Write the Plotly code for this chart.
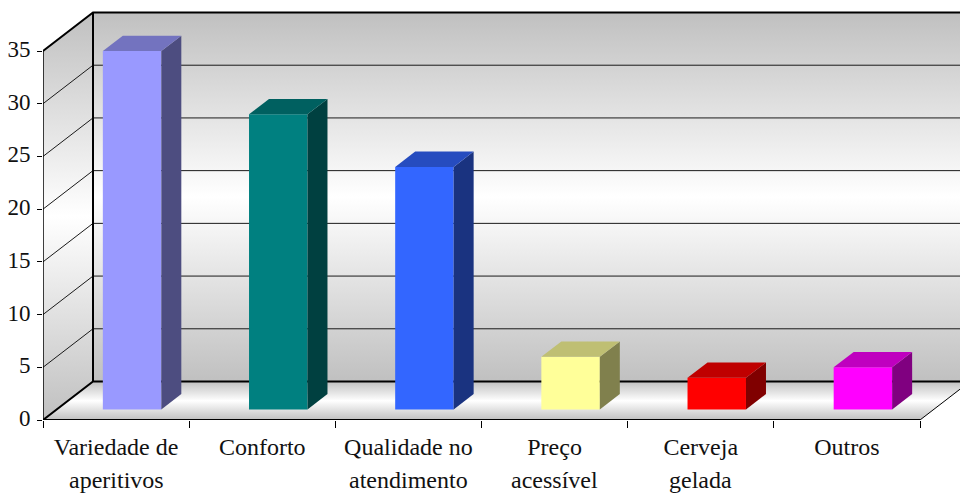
import plotly.graph_objects as go

categories_line1 = ["Variedade de", "Conforto", "Qualidade no", "Preço", "Cerveja", "Outros"]
categories_line2 = ["aperitivos", "", "atendimento", "acessível", "gelada", ""]
values = [34, 28, 23, 5, 3, 4]
front_colors = ["#9999FF", "#008080", "#3366FF", "#FFFF99", "#FF0000", "#FF00FF"]
top_colors = ["#7373BF", "#006060", "#264CBF", "#BFBF73", "#BF0000", "#BF00BF"]
side_colors = ["#4D4D80", "#004040", "#1A3380", "#80804D", "#800000", "#800080"]
y_ticks = [0, 5, 10, 15, 20, 25, 30, 35]

W, H = 960, 493
L, B = 43, 73            # plot origin in the page
SLOT = (920 - 43) / 6    # px per category
UNIT = 369 / 35          # px per value unit
DEPTH_X = 50 / SLOT      # full depth of the box, in axis units
DEPTH_Y = 38.5 / UNIT
N = len(values)
YMAX = 420 / UNIT
XMAX = (W - L) / SLOT
BAR_W = 0.4

GRADIENT = [[0, "#C0C0C0"], [0.5, "#FFFFFF"], [1, "#C0C0C0"]]


def wall(xs, ys, colorscale=GRADIENT):
    return go.Scatter(x=xs, y=ys, mode="none", fill="toself", hoverinfo="skip",
                      fillgradient=dict(type="vertical", colorscale=colorscale),
                      showlegend=False, xaxis="x", yaxis="y")


def line(xs, ys, width, color="#000000"):
    return go.Scatter(x=xs, y=ys, mode="lines", cliponaxis=False, hoverinfo="skip",
                      line=dict(color=color, width=width), showlegend=False,
                      xaxis="x", yaxis="y")


fig = go.Figure()

top = max(y_ticks)
# Walls and floor
fig.add_trace(wall([DEPTH_X, XMAX + 1, XMAX + 1, DEPTH_X, DEPTH_X],
                   [DEPTH_Y, DEPTH_Y, top + DEPTH_Y, top + DEPTH_Y, DEPTH_Y]))
fig.add_trace(wall([0, DEPTH_X, DEPTH_X, 0, 0],
                   [0, DEPTH_Y, top + DEPTH_Y, top, 0]))
fig.add_trace(wall([0, N, N + DEPTH_X, DEPTH_X, 0],
                   [0, 0, DEPTH_Y, DEPTH_Y, 0]))

# Gridlines across both walls
gx, gy = [], []
for t in y_ticks[1:-1]:
    gx += [0, DEPTH_X, XMAX + 1, None]
    gy += [t, t + DEPTH_Y, t + DEPTH_Y, None]
fig.add_trace(line(gx, gy, 1, "#1a1a1a"))

# Box edges
fig.add_trace(line([0, DEPTH_X, XMAX + 1], [top, top + DEPTH_Y, top + DEPTH_Y], 2))
fig.add_trace(line([DEPTH_X, DEPTH_X], [top + DEPTH_Y, DEPTH_Y], 2))
fig.add_trace(line([0, DEPTH_X, XMAX + 1], [0, DEPTH_Y, DEPTH_Y], 2))
fig.add_trace(line([0, 0], [0, top], 1.5))
fig.add_trace(line([0, N], [0, 0], 2))
fig.add_trace(line([N, N + DEPTH_X], [0, DEPTH_Y], 1))

# Bars (on an overlay so they sit over the walls)
fx, fy = 16 / SLOT, 10.5 / UNIT
bx, by = 0.4 * DEPTH_X, 0.4 * DEPTH_Y
for i, v in enumerate(values):
    cx = i + 0.5 + fx
    x0, x1 = cx - BAR_W / 2, cx + BAR_W / 2
    y0, y1 = fy, fy + v
    fig.add_trace(go.Bar(x=[cx], y=[v], base=[y0], width=[BAR_W], marker=dict(color=front_colors[i], line=dict(width=0)),
                         showlegend=False, name=categories_line1[i], xaxis="x2", yaxis="y2"))
    fig.add_trace(go.Scatter(x=[x1, x1 + bx, x1 + bx, x1, x1], y=[y0, y0 + by, y1 + by, y1, y0],
                             mode="none", fill="toself", fillcolor=side_colors[i], hoverinfo="skip",
                             showlegend=False, xaxis="x2", yaxis="y2"))
    fig.add_trace(go.Scatter(x=[x0, x1, x1 + bx, x0 + bx, x0], y=[y1, y1, y1 + by, y1 + by, y1],
                             mode="none", fill="toself", fillcolor=top_colors[i], hoverinfo="skip",
                             showlegend=False, xaxis="x2", yaxis="y2"))

TEXT = "#111111"
FONT = "Liberation Serif"
annotations = [
    dict(x=i + 0.5, xref="x", y=0, yref="paper", yshift=-60, yanchor="middle", text=t, showarrow=False,
         font=dict(family=FONT, size=24, color=TEXT))
    for i, t in enumerate(categories_line2) if t
]

fig.update_layout(
    width=W, height=H, autosize=False,
    margin=dict(l=L, r=0, t=0, b=B, pad=0),
    paper_bgcolor="#FFFFFF", plot_bgcolor="#FFFFFF",
    barmode="overlay", annotations=annotations,
    xaxis=dict(range=[0, XMAX], showgrid=False, zeroline=False, showline=False,
               tickmode="array", tickvals=[i + 0.5 for i in range(N)], ticktext=categories_line1,
               ticks="", ticklabelstandoff=10, tickangle=0,
               tickfont=dict(family=FONT, size=24, color=TEXT),
               minor=dict(tickmode="array", tickvals=list(range(N + 1)), ticks="outside", ticklen=7,
                          tickwidth=1, tickcolor="#000000", showgrid=False)),
    yaxis=dict(range=[0, YMAX], showgrid=False, zeroline=False, showline=False,
               tickmode="array", tickvals=y_ticks, ticks="outside", ticklen=5, tickwidth=1,
               tickcolor="#000000", ticklabelstandoff=2, ticklabelshift=-2,
               tickfont=dict(family=FONT, size=23, color=TEXT)),
    xaxis2=dict(range=[0, XMAX], overlaying="x", visible=False),
    yaxis2=dict(range=[0, YMAX], overlaying="y", visible=False),
)

fig.write_html("out.html", config=dict(displayModeBar=False),
               post_script="document.documentElement.style.overflow='hidden';document.body.style.margin='0';")
